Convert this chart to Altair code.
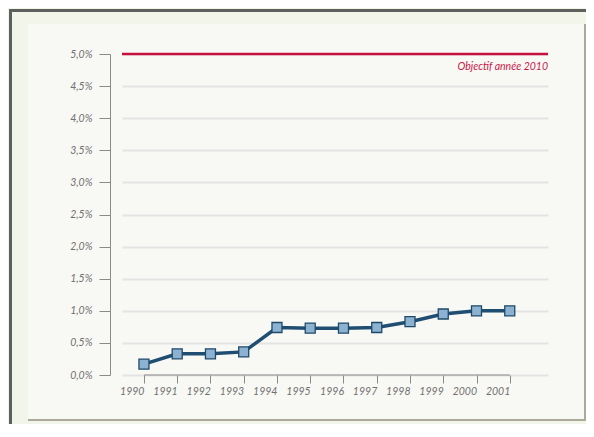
import altair as alt
import pandas as pd

# ---- data ----
years = [1990, 1991, 1992, 1993, 1994, 1995, 1996, 1997, 1998, 1999, 2000, 2001]
values = [0.17, 0.33, 0.33, 0.36, 0.74, 0.73, 0.73, 0.74, 0.83, 0.95, 1.00, 1.00]
target_value = [5.0]
target_label = ["Objectif année 2010"]
y_ticks = [0.0, 0.5, 1.0, 1.5, 2.0, 2.5, 3.0, 3.5, 4.0, 4.5, 5.0]

df = pd.DataFrame({"year": years, "value": values})
tdf = pd.DataFrame({"target": target_value, "label": target_label})
bdf = pd.DataFrame({"lo": [min(years)], "hi": [max(years)], "zero": [0.0]})

# ---- layout ----
W, H = 426, 321
PAD = {"left": 114, "top": 46, "right": 38, "bottom": 49}
FONT = "Lato"
PAPER = "#f8f8f4"
GREEN = "#f1f5ea"
FRAME = "#5e605d"
EDGE = "#aaa99a"

one = pd.DataFrame({"k": [0]})


def deco(x, x2, y, y2, color):
    return alt.Chart(one).mark_rect(color=color).encode(
        x=alt.value(x), x2=alt.value(x2), y=alt.value(y), y2=alt.value(y2)
    )


decor = [
    deco(-114, -94, -46, 370, GREEN),      # left margin
    deco(-114, 464, -46, -30, GREEN),      # top margin
    deco(-94, 464, 365, 367, EDGE),        # torn bottom edge
    deco(-114, 464, 367, 370, GREEN),      # bottom margin
    deco(462, 464, -30, 367, EDGE),        # right torn edge
    deco(-113, -110, -45, 370, FRAME),     # dark frame left
    deco(-113, 464, -45, -42, FRAME),      # dark frame top
]

X_SCALE = alt.Scale(domain=[1989.34, 2002.15], nice=False, zero=False)
Y_SCALE = alt.Scale(domain=[0, 5], nice=False)

X_AXIS = alt.Axis(
    title="",
    values=years,
    format="d",
    domain=False,
    grid=False,
    ticks=True,
    tickSize=8,
    tickColor="#8a8a8a",
    tickWidth=1,
    labelAlign="right",
    labelBaseline="top",
    labelPadding=3,
    labelFont=FONT,
    labelFontStyle="italic",
    labelFontSize=10.5,
    labelColor="#707070",
)

Y_AXIS = alt.Axis(
    title="",
    values=y_ticks,
    labelExpr="replace(format(datum.value, '.1f'), '.', ',') + '%'",
    offset=12,
    domain=True,
    domainColor="#8a8a8a",
    domainWidth=1,
    tickColor="#8a8a8a",
    tickSize=11,
    tickWidth=1,
    labelPadding=7,
    labelFont=FONT,
    labelFontStyle="italic",
    labelFontSize=10.5,
    labelColor="#707070",
    grid=True,
    gridColor="#e3e3e3",
    gridWidth=2,
)


def xe(field):
    return alt.X(field, scale=X_SCALE, axis=X_AXIS)


def ye(field):
    return alt.Y(field, scale=Y_SCALE, axis=Y_AXIS)


base = alt.Chart(df)

baseline = alt.Chart(bdf).mark_rule(color="#8a8a8a", strokeWidth=1).encode(
    x=xe("lo:Q"),
    x2="hi:Q",
    y=ye("zero:Q"),
)

target_rule = alt.Chart(tdf).mark_rule(color="#c8103e", strokeWidth=2.5).encode(
    y=ye("target:Q")
)

target_text = alt.Chart(tdf).mark_text(
    align="right",
    baseline="middle",
    dy=13,
    font=FONT,
    fontStyle="italic",
    fontSize=10.5,
    color="#c8174a",
).encode(
    x=alt.value(W),
    y=ye("target:Q"),
    text="label:N",
)

line = base.mark_line(color="#1f4e72", strokeWidth=3.5).encode(
    x=xe("year:Q"), y=ye("value:Q")
)

points = base.mark_point(
    shape="square",
    size=100,
    filled=True,
    fill="#8db2d1",
    stroke="#1e4a6a",
    strokeWidth=1.3,
    opacity=1,
).encode(x=xe("year:Q"), y=ye("value:Q"))

chart = alt.layer(
    line, *decor, baseline, target_rule, target_text, points
).properties(
    width=W,
    height=H,
    padding=PAD,
    autosize=alt.AutoSizeParams(type="none"),
    background=PAPER,
).configure_view(stroke=None)

chart.save("out.html", embed_options={"renderer": "svg", "actions": False})
